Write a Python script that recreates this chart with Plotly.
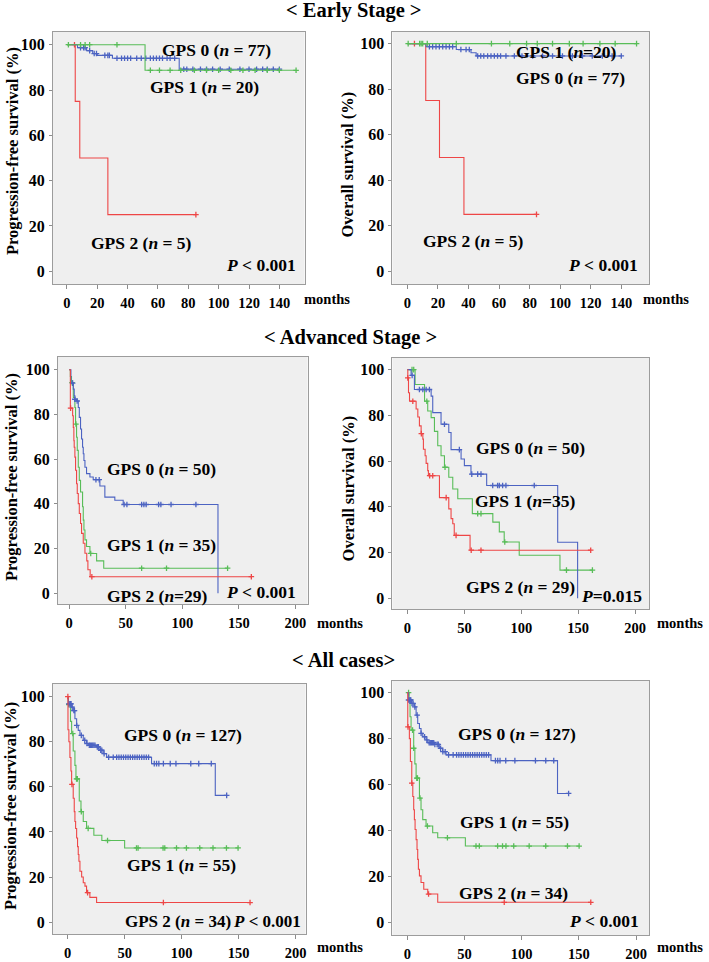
import numpy as np
import plotly.graph_objects as go

W, H = 709, 962

# ---------------- DATA ----------------
# Panel 1: Early stage, progression-free survival
p1_g0_t = [0, 7, 13, 17, 20, 30, 74]
p1_g0_s = [100, 98.7, 97.4, 96.1, 95.3, 94.0, 89.2]
p1_g0_end = 140
p1_g0_c = [9, 11, 12, 15, 18, 19.5, 25, 27, 28, 33, 36, 38, 40, 42, 46, 49, 52, 55, 57, 59, 61, 63, 66, 68, 71,
           77, 79, 83, 88, 92, 96, 101, 107, 114, 120, 125, 129, 132, 136, 140]
p1_g1_t = [0, 51.5]
p1_g1_s = [100, 88.7]
p1_g1_end = 151
p1_g1_c = [1, 9, 12, 15, 33, 55, 61, 68, 75, 84, 92, 100, 108, 116, 124, 132, 140, 151]
p1_g2_t = [0, 5.5, 8.5, 27]
p1_g2_s = [100, 75, 50, 25]
p1_g2_end = 85
p1_g2_c = [5, 85]

# Panel 2: Early stage, overall survival
p2_g0_t = [0, 12.2, 32, 41.6, 45]
p2_g0_s = [100, 98.7, 97.4, 96.0, 94.6]
p2_g0_end = 140
p2_g0_c = [14.4, 16.5, 18.7, 20.9, 23.1, 25.3, 27.5, 29.6, 35, 38.4, 40.5, 46, 48, 50, 52.5, 54.7, 56.9, 59, 61,
           64.5, 70, 75, 82, 88.5, 95, 101.5, 108, 114.6, 121, 127.6, 134, 140]
p2_g1_t = [0]
p2_g1_s = [100]
p2_g1_end = 150
p2_g1_c = [0.5, 8, 9, 10, 13, 32, 55, 67, 78, 85, 95, 106, 115, 126, 136, 150]
p2_g2_t = [0, 12, 21, 37]
p2_g2_s = [100, 75, 50, 25]
p2_g2_end = 84.5
p2_g2_c = [4.6, 84.5]

# Panel 3: Advanced stage, progression-free survival
p3_g0_t = [0, 1.5, 3.6, 4.4, 5, 6.5, 8, 8.9, 10, 10.9, 11.8, 12.4, 13, 13.9, 15.3, 18.3, 21.2, 27.1, 31.5, 40.3,
           47.7, 131.5]
p3_g0_s = [100, 94, 91.3, 88.3, 86.8, 86, 83.1, 78.7, 73.5, 69, 65.3, 62.4, 59.4, 56.4, 53.5, 52, 50.8, 48, 43,
           41.6, 39.7, 0]
p3_g0_end = 131.5
p3_g0_c = [3, 5, 7, 23.6, 26.5, 48.5, 51, 64, 66, 68, 79, 81, 90, 112]
p3_g1_t = [0, 1, 2, 3.6, 5, 5.6, 6.5, 7.1, 8, 8.9, 10, 11.8, 12.4, 13, 13.9, 15.3, 18.3, 24.2, 30.5]
p3_g1_s = [100, 97, 94.2, 87.6, 83.1, 75.7, 69.8, 63.9, 56.4, 50.5, 45.3, 38.7, 32.7, 28.3, 23.9, 20.9, 17.8,
           14.5, 11.2]
p3_g1_end = 140
p3_g1_c = [2.5, 5.9, 19, 64, 86, 140]
p3_g2_t = [0, 1, 3, 3.6, 4.1, 4.4, 5, 5.6, 6.5, 7.1, 8, 8.9, 10, 10.9, 12.4, 13.9, 15.5, 16.5, 18.5]
p3_g2_s = [100, 82.8, 79.4, 74.2, 68.3, 65.3, 60.9, 55, 49, 44.6, 40.1, 35.7, 31.2, 26.8, 22.4, 17.9, 14.5,
           10.5, 7.4]
p3_g2_end = 161
p3_g2_c = [1.2, 20, 161]

# Panel 4: Advanced stage, overall survival
p4_g0_t = [0, 3.2, 6.1, 20.8, 22.2, 29.5, 36.3, 38.3, 47.1, 50, 55.8, 69.6, 132, 149.5]
p4_g0_s = [100, 97.5, 91.3, 88.4, 81.2, 76.1, 72.5, 65, 60.9, 58, 54.3, 49.3, 24.5, 0]
p4_g0_end = 149.5
p4_g0_c = [4.1, 10.5, 13.5, 16.4, 19.3, 32.5, 45.6, 56.5, 61.7, 64.6, 74.9, 79.2, 80.7, 83.6, 86.5, 111.4]
p4_g1_t = [0, 6.7, 15, 17.8, 20.8, 23.7, 26.6, 29.5, 32.5, 36.3, 39.8, 44.2, 57, 75, 80.7, 85, 98.2, 134]
p4_g1_s = [100, 93.5, 86.2, 81.9, 79, 73, 66.7, 62.3, 57.3, 52.9, 47.8, 43.5, 37, 33.3, 29, 24.6, 18.8, 12.3]
p4_g1_end = 162.5
p4_g1_c = [4, 5.5, 17, 33, 61.7, 64.6, 85.5, 139.7, 162.5]
p4_g2_t = [0, 0.3, 0.9, 1.8, 7.6, 9.1, 10.5, 12, 13.5, 14, 15.5, 16.4, 17.8, 18.4, 28.1, 36.3, 38.3, 39.8, 41.1, 55]
p4_g2_s = [100, 96.4, 89.9, 86.2, 82.8, 79.3, 75.4, 72, 69.6, 65.2, 62.3, 59, 55.8, 53.6, 44, 39.1, 34.8, 32.6,
           27.5, 21]
p4_g2_end = 161
p4_g2_c = [0.3, 4.7, 12.2, 19.5, 22.2, 34, 42.7, 56, 64.6, 161]

# Panel 5: All cases, progression-free survival
p5_g0_t = [0, 0.6, 3.5, 4.9, 6.4, 7.9, 9.3, 10.8, 13.7, 16.6, 18.1, 25.4, 28.3, 31.2, 34.2, 73.6, 129.5]
p5_g0_s = [100, 96.8, 95.3, 93.8, 90.2, 87.2, 85, 82.8, 80.6, 79.2, 78.4, 77.7, 76.2, 74.7, 73.1, 70.3, 56.2]
p5_g0_end = 139.5
p5_g0_c = [1, 2, 2.5, 3, 4, 5.5, 6, 8, 12, 15, 17, 19, 20, 21, 22, 23, 24, 26, 27, 29, 30, 32, 36, 40, 43, 45,
           47, 49, 51, 53, 55, 57, 59, 61, 63, 65, 67, 69, 71, 76, 78, 80, 84, 90, 95, 108, 115, 126, 139.5]
p5_g1_t = [0, 0.6, 2.5, 3.5, 4.9, 6.4, 7.3, 10.2, 11.7, 13.7, 16.6, 23, 30, 50]
p5_g1_s = [100, 96.4, 89, 83.6, 75.9, 69.5, 63.5, 53.7, 49, 44.6, 41.6, 38.5, 36.2, 32.9]
p5_g1_end = 149.5
p5_g1_c = [1, 4.5, 7.8, 8.5, 12, 18, 35, 60.4, 61.8, 83.7, 85.2, 95.5, 104.2, 115.9, 127.5, 139.3, 149.5]
p5_g2_t = [0, 0.3, 1.1, 2, 2.9, 3.5, 4.9, 5.8, 6.4, 7, 7.9, 8.7, 9.3, 9.9, 10.8, 12.3, 13.7, 15.2, 16.6, 19.5,
           25.4]
p5_g2_s = [100, 85.3, 80, 73, 67, 61.1, 54.9, 49, 44.6, 41.5, 37.3, 33.5, 30, 27, 22.6, 20, 17.5, 16, 13.1, 11,
           8.7]
p5_g2_end = 160
p5_g2_c = [0.2, 3.8, 17.5, 84, 160]

# Panel 6: All cases, overall survival
p6_g0_t = [0, 0.8, 3.5, 6.1, 7.6, 9, 10.5, 11.9, 13.4, 16.3, 17.8, 23.6, 27.9, 30.8, 33.8, 73.1, 131.3]
p6_g0_s = [100, 96.8, 95.3, 93.8, 90.2, 86.6, 84.4, 82.3, 80.8, 79.4, 78.2, 77.5, 75.8, 74.3, 72.9, 70.4, 56.1]
p6_g0_end = 141
p6_g0_c = [1, 2, 2.5, 3, 4, 5, 6.5, 8.5, 12, 15, 17, 19, 20, 21, 22, 23, 24, 26, 27, 29, 31, 33, 36, 40, 43, 45,
           47, 49, 51, 53, 55, 57, 59, 61, 63, 65, 67, 69, 71, 77, 79, 81, 86, 94, 112, 121, 128, 141]
p6_g1_t = [0, 1.5, 2.3, 3.2, 5.5, 6.5, 7.6, 10.5, 11.9, 13.4, 16.3, 22.1, 26.5, 50.7]
p6_g1_s = [100, 96.4, 89.5, 83.7, 75.8, 69, 62.8, 54.1, 49, 44.7, 41.9, 39, 36.8, 33.2]
p6_g1_end = 150.2
p6_g1_c = [1, 4.5, 5.5, 8.2, 8.8, 11, 17.5, 35, 60, 62.9, 78.9, 83.2, 86.2, 93, 106.5, 121, 140, 150.2]
p6_g2_t = [0, 0.3, 1.7, 2.6, 3.8, 4.7, 5.5, 6.1, 6.7, 7.6, 8.4, 9, 9.6, 10.5, 11.9, 14.3, 17.8, 26.5]
p6_g2_s = [100, 85.1, 80, 70, 60.6, 54.8, 49, 44.7, 40.4, 36, 31.7, 27.4, 23.1, 20.2, 17.3, 14.4, 12.3, 8.7]
p6_g2_end = 160.4
p6_g2_c = [0.5, 3.8, 18.5, 84.7, 160.4]

# Labels
section_titles = ["&lt; Early Stage &gt;", "&lt; Advanced Stage &gt;", "&lt; All cases&gt;"]
pfs_title = "Progression-free survival (%)"
os_title = "Overall survival (%)"
x_unit = "months"
early_xticks = [0, 20, 40, 60, 80, 100, 120, 140]
late_xticks = [0, 50, 100, 150, 200]
y_ticks = [0, 20, 40, 60, 80, 100]

# ---------------- STYLE ----------------
BLUE = "#4c63c2"
GREEN = "#58bd58"
RED = "#ee4646"
FONT = "Liberation Serif, Times New Roman, serif"

def px(x):
    return x / W

def py(y):
    return 1 - y / H

panels = [
    dict(curves=[(p1_g2_t, p1_g2_s, p1_g2_end, p1_g2_c, RED),
                 (p1_g0_t, p1_g0_s, p1_g0_end, p1_g0_c, BLUE),
                 (p1_g1_t, p1_g1_s, p1_g1_end, p1_g1_c, GREEN)],
         box=(53, 305, 32, 286), xr=[-9.2, 156.6], yr=[-5.7, 105.7], xt=early_xticks),
    dict(curves=[(p2_g2_t, p2_g2_s, p2_g2_end, p2_g2_c, RED),
                 (p2_g0_t, p2_g0_s, p2_g0_end, p2_g0_c, BLUE),
                 (p2_g1_t, p2_g1_s, p2_g1_end, p2_g1_c, GREEN)],
         box=(393, 650, 32, 286), xr=[-9.8, 158.2], yr=[-5.7, 105.2], xt=early_xticks),
    dict(curves=[(p3_g1_t, p3_g1_s, p3_g1_end, p3_g1_c, GREEN),
                 (p3_g0_t, p3_g0_s, p3_g0_end, p3_g0_c, BLUE),
                 (p3_g2_t, p3_g2_s, p3_g2_end, p3_g2_c, RED)],
         box=(58, 308, 359, 608), xr=[-10, 210.7], yr=[-4.9, 105.8], xt=late_xticks),
    dict(curves=[(p4_g1_t, p4_g1_s, p4_g1_end, p4_g1_c, GREEN),
                 (p4_g0_t, p4_g0_s, p4_g0_end, p4_g0_c, BLUE),
                 (p4_g2_t, p4_g2_s, p4_g2_end, p4_g2_c, RED)],
         box=(393, 650, 360, 613), xr=[-13.2, 212.3], yr=[-4.8, 105.2], xt=late_xticks),
    dict(curves=[(p5_g1_t, p5_g1_s, p5_g1_end, p5_g1_c, GREEN),
                 (p5_g0_t, p5_g0_s, p5_g0_end, p5_g0_c, BLUE),
                 (p5_g2_t, p5_g2_s, p5_g2_end, p5_g2_c, RED)],
         box=(53, 306, 688, 940), xr=[-12.9, 208.7], yr=[-5.3, 105.7], xt=late_xticks),
    dict(curves=[(p6_g1_t, p6_g1_s, p6_g1_end, p6_g1_c, GREEN),
                 (p6_g0_t, p6_g0_s, p6_g0_end, p6_g0_c, BLUE),
                 (p6_g2_t, p6_g2_s, p6_g2_end, p6_g2_c, RED)],
         box=(393, 650, 685, 941), xr=[-13.1, 211.4], yr=[-5.6, 105.2], xt=late_xticks),
]

fig = go.Figure()
layout_axes = {}

for i, p in enumerate(panels, start=1):
    xa = "x" if i == 1 else f"x{i}"
    ya = "y" if i == 1 else f"y{i}"
    for t, s, end, cens, color in p["curves"]:
        xs = list(t) + [end]
        ys = list(s) + [s[-1]]
        fig.add_trace(go.Scatter(x=xs, y=ys, mode="lines", line=dict(color=color, width=1.1, shape="hv"),
                                 xaxis=xa, yaxis=ya, showlegend=False, hoverinfo="skip"))
        ta = np.array(t, dtype=float)
        idx = np.searchsorted(ta, np.array(cens, dtype=float), side="right") - 1
        cy = np.array(s, dtype=float)[idx]
        fig.add_trace(go.Scatter(x=cens, y=cy, mode="markers",
                                 marker=dict(symbol="cross-thin", size=4, line=dict(color=color, width=1.3)),
                                 xaxis=xa, yaxis=ya, showlegend=False, hoverinfo="skip"))
    x0, x1, y0, y1 = p["box"]
    axname_x = "xaxis" if i == 1 else f"xaxis{i}"
    axname_y = "yaxis" if i == 1 else f"yaxis{i}"
    layout_axes[axname_x] = dict(domain=[px(x0), px(x1)], range=p["xr"], anchor=ya, tickvals=p["xt"],
                                 ticks="outside", ticklen=4, tickcolor="#8c8c8c", showline=True, mirror=True,
                                 linecolor="#9c9c9c", linewidth=1, showgrid=False, zeroline=False,
                                 tickfont=dict(family=FONT, size=14.5, color="black", weight="bold"),
                                 ticklabelstandoff=1, fixedrange=True)
    layout_axes[axname_y] = dict(domain=[py(y1), py(y0)], range=p["yr"], anchor=xa, tickvals=y_ticks,
                                 ticks="outside", ticklen=3, tickcolor="#8c8c8c", showline=True, mirror=True,
                                 linecolor="#9c9c9c", linewidth=1, showgrid=False, zeroline=False,
                                 tickfont=dict(family=FONT, size=16, color="black", weight="bold"),
                                 ticklabelstandoff=1, fixedrange=True)

fig.update_layout(**layout_axes)

ann = []

def text_ann(txt, x, y, size=17.5, angle=0, xanchor="center"):
    ann.append(dict(text=txt, x=px(x), y=py(y), xref="paper", yref="paper", showarrow=False,
                    xanchor=xanchor, yanchor="middle", textangle=angle,
                    font=dict(family=FONT, size=size, color="black", weight="bold")))

# section titles
text_ann(section_titles[0], 354, 11, size=20.5)
text_ann(section_titles[1], 351, 340, size=20.5)
text_ann(section_titles[2], 344, 664, size=20.5)

# y titles
text_ann(pfs_title, 12, 152, size=16.5, angle=-90)
text_ann(os_title, 348, 166, size=16.5, angle=-90)
text_ann(pfs_title, 11, 480, size=16.5, angle=-90)
text_ann(os_title, 349, 492, size=16.5, angle=-90)
text_ann(pfs_title, 11, 811, size=16.5, angle=-90)

# months
for (mx, my) in [(327, 301), (667, 301), (340, 627), (681, 627), (340, 953), (681, 953)]:
    text_ann(x_unit, mx, my, size=14.5)

# group labels
n = "<i>n</i>"
text_ann(f"GPS 0 ({n} = 77)", 217, 50)
text_ann(f"GPS 1 ({n} = 20)", 205, 88)
text_ann(f"GPS 2 ({n} = 5)", 142, 245)
text_ann("<i>P</i> &lt; 0.001", 298, 267, xanchor="right")

text_ann(f"GPS 1 ({n}=20)", 567, 52)
text_ann(f"GPS 0 ({n} = 77)", 571, 78)
text_ann(f"GPS 2 ({n} = 5)", 474, 243)
text_ann("<i>P</i> &lt; 0.001", 641, 267, xanchor="right")

text_ann(f"GPS 0 ({n} = 50)", 162, 472)
text_ann(f"GPS 1 ({n} = 35)", 162, 548)
text_ann(f"GPS 2 ({n}=29)", 158, 600)
text_ann("<i>P</i> &lt; 0.001", 298, 596, xanchor="right")

text_ann(f"GPS 0 ({n} = 50)", 531, 451)
text_ann(f"GPS 1 ({n}=35)", 526, 504)
text_ann(f"GPS 2 ({n} = 29)", 521, 591)
text_ann("<i>P</i>=0.015", 645, 600, xanchor="right")

text_ann(f"GPS 0 ({n} = 127)", 183, 740)
text_ann(f"GPS 1 ({n} = 55)", 182, 870)
text_ann(f"GPS 2 ({n} = 34)", 178, 927, size=17)
text_ann("<i>P</i> &lt; 0.001", 303, 927, size=17, xanchor="right")

text_ann(f"GPS 0 ({n} = 127)", 518, 739)
text_ann(f"GPS 1 ({n} = 55)", 515, 827)
text_ann(f"GPS 2 ({n} = 34)", 514, 899)
text_ann("<i>P</i> &lt; 0.001", 642, 927, xanchor="right")

fig.update_layout(
    width=W, height=H, margin=dict(l=0, r=0, t=0, b=0),
    paper_bgcolor="white", plot_bgcolor="#efefef",
    font=dict(family=FONT, color="black", weight="bold"),
    annotations=ann, showlegend=False,
)

fig.write_html("out.html", config={"displayModeBar": False},
               post_script="document.body.style.margin='0px';document.body.style.overflow='hidden';")
